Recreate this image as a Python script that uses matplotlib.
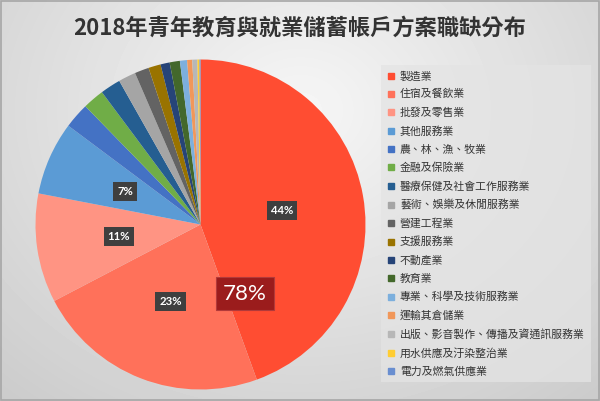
import numpy as np
import matplotlib
matplotlib.use('Agg')
from matplotlib import pyplot as plt
from matplotlib.lines import Line2D
from matplotlib.patches import Rectangle

plt.rcParams['font.family'] = ['Noto Sans CJK TC', 'DejaVu Sans']

# industry categories, in the order of the pie (clockwise from 12 o'clock)
industries = ['製造業', '住宿及餐飲業', '批發及零售業', '其他服務業', '農、林、漁、牧業',
              '金融及保險業', '醫療保健及社會工作服務業', '藝術、娛樂及休閒服務業', '營建工程業',
              '支援服務業', '不動產業', '教育業', '專業、科學及技術服務業', '運輸其倉儲業',
              '出版、影音製作、傳播及資通訊服務業', '用水供應及汙染整治業', '電力及燃氣供應業']
# share of job vacancies (%)
shares = [44.5, 22.9, 10.7, 7.2, 2.5, 2.1, 2.0, 1.7, 1.4, 1.2, 0.9, 1.0, 0.7, 0.5, 0.5, 0.2, 0.1]
colors = ['#FF4D32', '#FF715A', '#FF9483', '#5B9BD5', '#4472C4', '#70AD47', '#255E91',
          '#A5A5A5', '#636363', '#997300', '#264478', '#43682B', '#7CAFDD', '#F1975A',
          '#B7B7B7', '#FFCD33', '#698ED0']
top3_total = '78%'
title = '2018年青年教育與就業儲蓄帳戶方案職缺分布'

W, H = 600, 401
fig = plt.figure(figsize=(W / 100, H / 100), dpi=100)

# soft grey radial background
bg = fig.add_axes([0, 0, 1, 1], zorder=-10)
yy, xx = np.mgrid[0:H, 0:W]
d = np.hypot(xx - 300, (yy - 110) * 1.2)
shade = 0.965 - 0.17 * d / d.max()
bg.imshow(shade, cmap='gray', vmin=0, vmax=1, extent=[0, W, H, 0], aspect='auto')
bg.set_xlim(0, W)
bg.set_ylim(H, 0)
bg.axis('off')
bg.add_patch(Rectangle((0.5, 0.5), W - 1.5, H - 1.5, fill=False, ec='#A6A6A6', lw=1.2))

# pie
cx, cy, r = 200.5, 224.5, 165
ax = fig.add_axes([(cx - r) / W, 1 - (cy + r) / H, 2 * r / W, 2 * r / H])


def pct_label(p):
    return f'{p:.0f}%' if p >= 5 else ''


wedges, _, autotexts = ax.pie(shares, colors=colors, startangle=90, counterclock=False,
                              autopct=pct_label, pctdistance=0.5,
                              wedgeprops=dict(linewidth=0))
for t in autotexts:
    t.set_fontfamily('Lato')
    t.set_fontweight('bold')
    t.set_fontsize(8.2)
    t.set_color('white')
    if t.get_text():
        t.set_bbox(dict(boxstyle='square,pad=0.35', fc='#3F3F3F', ec='none'))
ax.set_xlim(-1, 1)
ax.set_ylim(-1, 1)

ax.text(0.27, -0.42, top3_total, ha='center', va='center', fontsize=16, color='white',
        fontfamily='Lato',
        bbox=dict(boxstyle='square,pad=0.3', fc='#9B1C1C', ec='#B23A3A', lw=0.8))

# legend
handles = [Line2D([], [], marker='s', ls='', color=c, markersize=4.6) for c in colors]
leg = fig.legend(handles, industries, loc='upper left',
                 bbox_to_anchor=(381 / W, 1 - 65 / H), borderaxespad=0,
                 fontsize=7.8, frameon=True, fancybox=False, handlelength=0.7,
                 handletextpad=0.5, labelspacing=0.73, borderpad=0.55)
leg.get_frame().set_facecolor('#E4E4E4')
leg.get_frame().set_alpha(0.75)
leg.get_frame().set_edgecolor('none')
for t in leg.get_texts():
    t.set_color('#333333')

fig.text(0.5, 1 - 28 / H, title, ha='center', va='center', fontsize=16,
         fontweight='bold', color='#333333')

fig.savefig('out.png', dpi=100)
